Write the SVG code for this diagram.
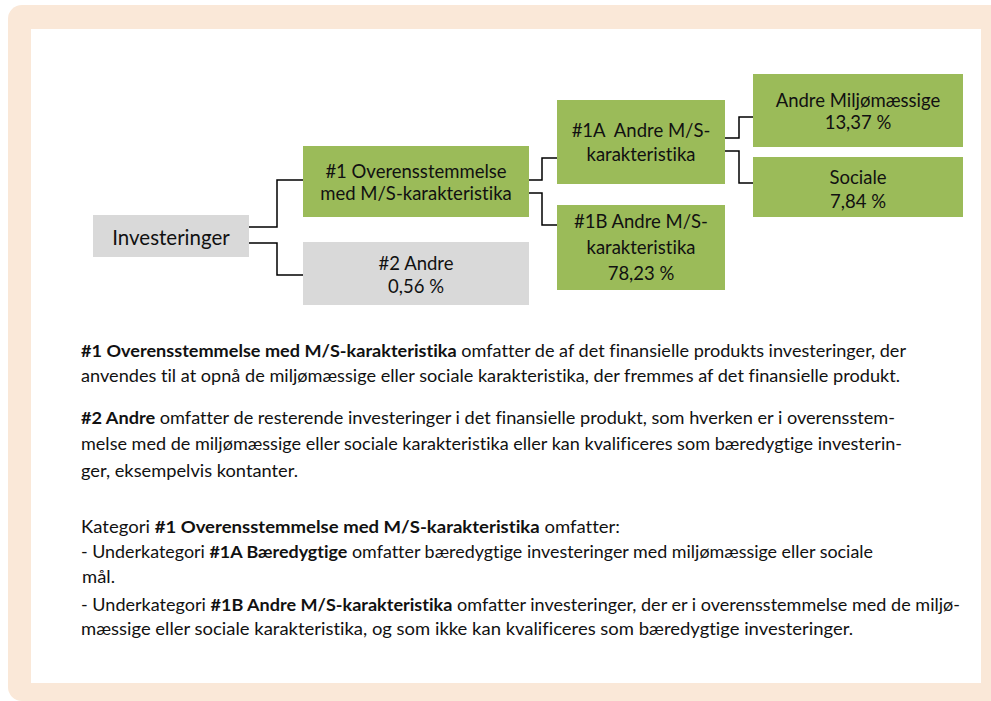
<svg xmlns="http://www.w3.org/2000/svg" width="991" height="701" viewBox="0 0 991 701">
<style>
.frame{fill:#FAE8D8}
.panel{fill:#FFFFFF}
.green{fill:#9BBB59}
.gray{fill:#D9D9D9}
text{font-variant-ligatures:none;font-feature-settings:"liga" 0,"dlig" 0,"clig" 0}
.nt{font-family:Lato,"Liberation Sans",sans-serif;font-size:18.5px;fill:#111;text-anchor:middle}
.bt{font-family:Lato,"Liberation Sans",sans-serif;font-size:17.5px;fill:#111}
.b{font-weight:bold}
.conn path{fill:none;stroke:#000;stroke-width:1.5}
</style>
<rect class="frame" x="8" y="5" width="1000" height="696" rx="14"/>
<rect class="panel" x="31" y="29" width="950" height="654"/>

<g id="connectors" class="conn">
<path d="M249,227 H277 V180 H303"/>
<path d="M249,243 H277 V275 H303"/>
<path d="M529,180 H542 V158 H557"/>
<path d="M529,193 H542 V225 H557"/>
<path d="M725,138 H739 V117 H753"/>
<path d="M725,151 H739 V183 H753"/>
</g>

<g id="investeringer">
<rect class="gray" x="93" y="215" width="156" height="42"/>
<text class="nt" x="171" y="245" style="font-size:20.5px">Investeringer</text>
</g>
<g id="n1">
<rect class="green" x="303" y="146" width="226" height="71"/>
<text class="nt" x="416" y="178">#1 Overensstemmelse</text>
<text class="nt" x="416" y="200">med M/S-karakteristika</text>
</g>
<g id="n2">
<rect class="gray" x="303" y="242" width="226" height="63"/>
<text class="nt" x="416" y="270">#2 Andre</text>
<text class="nt" x="416" y="293">0,56 %</text>
</g>
<g id="n1a">
<rect class="green" x="557" y="100" width="168" height="84"/>
<text class="nt" x="641" y="137" xml:space="preserve">#1A  Andre M/S-</text>
<text class="nt" x="641" y="161">karakteristika</text>
</g>
<g id="n1b">
<rect class="green" x="557" y="205" width="168" height="85"/>
<text class="nt" x="641" y="228">#1B Andre M/S-</text>
<text class="nt" x="641" y="254">karakteristika</text>
<text class="nt" x="641" y="280">78,23 %</text>
</g>
<g id="miljo">
<rect class="green" x="753" y="74" width="210" height="73"/>
<text class="nt" x="858" y="107">Andre Miljømæssige</text>
<text class="nt" x="858" y="129">13,37 %</text>
</g>
<g id="sociale">
<rect class="green" x="753" y="157" width="210" height="60"/>
<text class="nt" x="858" y="184">Sociale</text>
<text class="nt" x="858" y="208">7,84 %</text>
</g>

<g id="body">
<text class="bt" x="81" y="357" textLength="825" lengthAdjust="spacingAndGlyphs"><tspan class="b">#1 Overensstemmelse med M/S-karakteristika</tspan> omfatter de af det finansielle produkts investeringer, der</text>
<text class="bt" x="81" y="382" textLength="819" lengthAdjust="spacingAndGlyphs">anvendes til at opnå de miljømæssige eller sociale karakteristika, der fremmes af det finansielle produkt.</text>
<text class="bt" x="81" y="424" textLength="814" lengthAdjust="spacingAndGlyphs"><tspan class="b">#2 Andre</tspan> omfatter de resterende investeringer i det finansielle produkt, som hverken er i overensstem-</text>
<text class="bt" x="81" y="450" textLength="821" lengthAdjust="spacingAndGlyphs">melse med de miljømæssige eller sociale karakteristika eller kan kvalificeres som bæredygtige investerin-</text>
<text class="bt" x="81" y="477" textLength="217" lengthAdjust="spacingAndGlyphs">ger, eksempelvis kontanter.</text>
<text class="bt" x="81" y="533" textLength="539" lengthAdjust="spacingAndGlyphs">Kategori <tspan class="b">#1 Overensstemmelse med M/S-karakteristika</tspan> omfatter:</text>
<text class="bt" x="81" y="558" textLength="792" lengthAdjust="spacingAndGlyphs">- Underkategori <tspan class="b">#1A Bæredygtige</tspan> omfatter bæredygtige investeringer med miljømæssige eller sociale</text>
<text class="bt" x="82" y="583" textLength="33" lengthAdjust="spacingAndGlyphs">mål.</text>
<text class="bt" x="81" y="611" textLength="879" lengthAdjust="spacingAndGlyphs">- Underkategori <tspan class="b">#1B Andre M/S-karakteristika</tspan> omfatter investeringer, der er i overensstemmelse med de miljø-</text>
<text class="bt" x="81" y="635" textLength="772" lengthAdjust="spacingAndGlyphs">mæssige eller sociale karakteristika, og som ikke kan kvalificeres som bæredygtige investeringer.</text>
</g>
</svg>
